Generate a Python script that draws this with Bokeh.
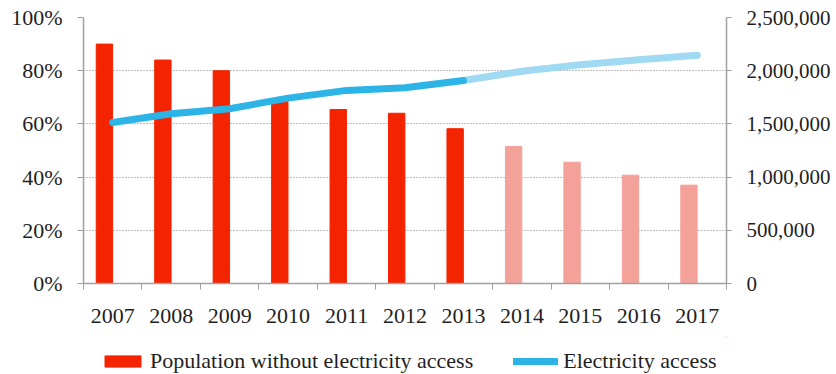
from bokeh.plotting import figure
from bokeh.layouts import column
from bokeh.models import Range1d, LinearAxis, FixedTicker, NumeralTickFormatter, Legend, LegendItem, ColumnDataSource
from bokeh.embed import file_html
from bokeh.resources import INLINE

years = ["2007", "2008", "2009", "2010", "2011", "2012", "2013", "2014", "2015", "2016", "2017"]
pop_without = [2250000, 2100000, 2000000, 1720000, 1635000, 1600000, 1455000, 1288000, 1140000, 1018000, 924000]
access = [0.605, 0.638, 0.657, 0.697, 0.726, 0.736, 0.763, 0.798, 0.822, 0.841, 0.858]
n_actual = 7  # 2007-2013 actual, rest projected
left_ticks = [0, 0.2, 0.4, 0.6, 0.8, 1.0]
right_ticks = [0, 500000, 1000000, 1500000, 2000000, 2500000]
legend_labels = ["Population without electricity access", "Electricity access"]

FONT = "Liberation Serif"
TXT = "#1f1f1f"
AXIS = "#a0a0a0"
RED = "#f42300"
RED_L = "#f4a19a"
BLUE = "#2cb4e6"
BLUE_L = "#9fd9f2"

idx = list(range(len(years)))
centers = [i + 0.5 for i in idx]

p = figure(width=836, height=336, output_backend="svg", toolbar_location=None,
           x_range=Range1d(0, len(years)), y_range=Range1d(0, 1),
           min_border_left=83, min_border_right=110, min_border_top=17, min_border_bottom=53)
p.outline_line_color = None
p.background_fill_color = "white"
p.border_fill_color = "white"
p.extra_y_ranges = {"pop": Range1d(0, 2500000)}

# grid
p.xgrid.visible = False
p.ygrid.ticker = FixedTicker(ticks=left_ticks[1:])
p.ygrid.grid_line_color = "#7f7f7f"
p.ygrid.grid_line_dash = "1 2"
p.ygrid.grid_line_width = 1

# bars
bar_colors = [RED if i < n_actual else RED_L for i in idx]
src = ColumnDataSource(dict(x=[c - 0.142 for c in centers], top=pop_without, color=bar_colors))
p.vbar(x="x", top="top", width=0.28, color="color", source=src, y_range_name="pop")

# lines
p.line(centers[n_actual - 1:], access[n_actual - 1:], line_color=BLUE_L, line_width=7, line_cap="round", line_join="round")
p.line(centers[:n_actual], access[:n_actual], line_color=BLUE, line_width=7, line_cap="round", line_join="round")

# axes
xa = p.xaxis[0]
xa.ticker = FixedTicker(ticks=centers, minor_ticks=[float(i) for i in range(len(years) + 1)])
xa.major_label_overrides = {c: y for c, y in zip(centers, years)}
xa.major_tick_out = 0
xa.major_tick_in = 0
xa.minor_tick_out = 6
xa.minor_tick_in = 0
xa.minor_tick_line_color = AXIS
xa.axis_line_color = AXIS
xa.axis_line_width = 1.5
xa.major_label_standoff = 19
xa.major_label_text_font = FONT
xa.major_label_text_font_size = "22px"
xa.major_label_text_color = TXT

ya = p.yaxis[0]
ya.ticker = FixedTicker(ticks=left_ticks)
ya.formatter = NumeralTickFormatter(format="0%")
ya.major_tick_out = 6
ya.major_tick_in = 0
ya.minor_tick_out = 0
ya.minor_tick_in = 0
ya.major_tick_line_color = AXIS
ya.axis_line_color = AXIS
ya.axis_line_width = 1.5
ya.major_label_standoff = 15
ya.major_label_text_font = FONT
ya.major_label_text_font_size = "22px"
ya.major_label_text_color = TXT

ra = LinearAxis(y_range_name="pop", ticker=FixedTicker(ticks=right_ticks),
                formatter=NumeralTickFormatter(format="0,0"))
ra.major_tick_out = 5
ra.major_tick_in = 0
ra.minor_tick_out = 0
ra.minor_tick_in = 0
ra.major_tick_line_color = AXIS
ra.axis_line_color = AXIS
ra.axis_line_width = 1.5
ra.major_label_standoff = 15
ra.major_label_text_font = FONT
ra.major_label_text_font_size = "21px"
ra.major_label_text_color = TXT
p.add_layout(ra, "right")

# legend strip below the chart (its frame is aligned with the chart's frame)
lf = figure(width=836, height=38, output_backend="svg", toolbar_location=None,
            x_range=Range1d(0, 1), y_range=Range1d(0, 1),
            min_border_left=0, min_border_right=0, min_border_top=0, min_border_bottom=0)
lf.axis.visible = False
lf.grid.visible = False
lf.outline_line_color = None
# swatch renderers kept outside the visible range; only their legend glyphs show
lr_bar = lf.vbar(x=[5], top=[5], bottom=[4], width=0.3, color=RED)
lr_line = lf.line(x=[5, 6], y=[5, 5], line_color=BLUE, line_width=7, line_cap="round")
legend = Legend(items=[LegendItem(label=legend_labels[0], renderers=[lr_bar]),
                       LegendItem(label=legend_labels[1], renderers=[lr_line])],
                orientation="horizontal", location=(17, 0))
legend.glyph_width = 45
legend.glyph_height = 14
legend.label_standoff = 5
legend.spacing = 40
legend.padding = 0
legend.margin = 0
legend.border_line_color = None
legend.background_fill_alpha = 0
legend.label_text_font = FONT
legend.label_text_font_size = "22px"
legend.label_text_color = TXT
legend.label_height = 20
lf.add_layout(legend, "center")

layout = column(p, lf, spacing=0)
open("out.html", "w").write(file_html(layout, INLINE))
